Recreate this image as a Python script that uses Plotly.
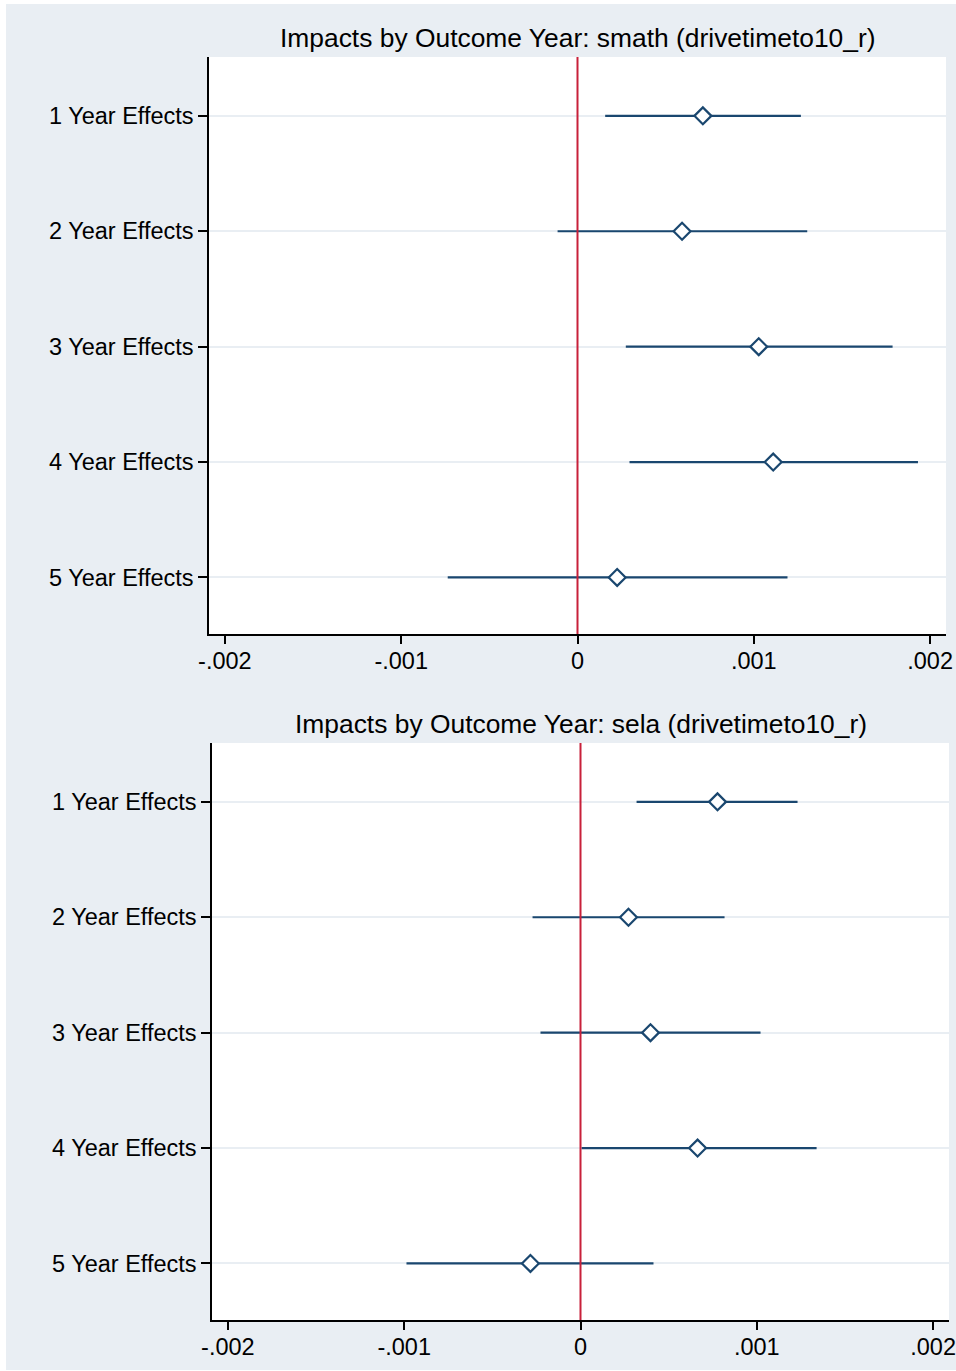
import plotly.graph_objects as go

# ---------------- data ----------------
categories = ["1 Year Effects", "2 Year Effects", "3 Year Effects",
              "4 Year Effects", "5 Year Effects"]
cat_pos = [1, 2, 3, 4, 5]

math_est = [0.000711, 0.000593, 0.001028, 0.001110, 0.000225]
math_lo = [0.000157, -0.000113, 0.000274, 0.000295, -0.000736]
math_hi = [0.001267, 0.001303, 0.001787, 0.001931, 0.001191]

ela_est = [0.000777, 0.000272, 0.000397, 0.000664, -0.000284]
ela_lo = [0.000318, -0.000272, -0.000227, 0.000006, -0.000987]
ela_hi = [0.001231, 0.000817, 0.001021, 0.001339, 0.000414]

xtick_vals = [-0.002, -0.001, 0, 0.001, 0.002]
xtick_text = ["-.002", "-.001", "0", ".001", ".002"]

titles = ["Impacts by Outcome Year: smath (drivetimeto10_r)",
          "Impacts by Outcome Year: sela (drivetimeto10_r)"]

# ---------------- style ----------------
W, H = 956, 1371
FONT = "Liberation Sans, Arial, Helvetica, sans-serif"
NAVY = "#1A476F"
RED = "#C8203A"
BG = "#E9EEF3"
GRID = "#E9EEF3"

panels = [
    dict(est=math_est, lo=math_lo, hi=math_hi, x=(209, 946), y=(57, 634), ty=38),
    dict(est=ela_est, lo=ela_lo, hi=ela_hi, x=(212, 949), y=(743, 1320), ty=724),
]

fig = go.Figure()
shapes = [dict(type="rect", xref="paper", yref="paper",
               x0=6 / W, x1=1.0, y0=1 - 1370 / H, y1=1 - 4 / H,
               fillcolor=BG, line=dict(width=0), layer="below")]
annotations = []

for i, p in enumerate(panels):
    n = "" if i == 0 else str(i + 1)
    xa, ya = "x" + n, "y" + n
    plus = [h - e for h, e in zip(p["hi"], p["est"])]
    minus = [e - l for e, l in zip(p["est"], p["lo"])]
    fig.add_trace(go.Scatter(
        x=p["est"], y=cat_pos, mode="markers", xaxis=xa, yaxis=ya,
        marker=dict(symbol="diamond", size=13, color="white",
                    line=dict(color=NAVY, width=2.2)),
        error_x=dict(type="data", symmetric=False, array=plus, arrayminus=minus,
                     color=NAVY, thickness=2.2, width=0),
        showlegend=False, hoverinfo="skip"))

    xd = [p["x"][0] / W, p["x"][1] / W]
    yd = [1 - p["y"][1] / H, 1 - p["y"][0] / H]
    # white plot region
    shapes.append(dict(type="rect", xref="paper", yref="paper",
                       x0=xd[0], x1=xd[1], y0=yd[0], y1=yd[1],
                       fillcolor="white", line=dict(width=0), layer="below"))
    # zero reference line
    shapes.append(dict(type="line", xref=xa, yref=ya + " domain",
                       x0=0, x1=0, y0=0, y1=1,
                       line=dict(color=RED, width=2), layer="above"))
    annotations.append(dict(text=titles[i], xref="paper", yref="paper",
                            x=(xd[0] + xd[1]) / 2, y=1 - p["ty"] / H,
                            xanchor="center", yanchor="middle", showarrow=False,
                            font=dict(family=FONT, size=26.4, color="black")))

    xkey = "xaxis" + n
    ykey = "yaxis" + n
    fig.update_layout(**{
        xkey: dict(domain=xd, anchor=ya, range=[-0.00209, 0.00209],
                   tickmode="array", tickvals=xtick_vals, ticktext=xtick_text,
                   ticks="outside", ticklen=8, tickwidth=1.5, tickcolor="black",
                   ticklabelstandoff=-3, ticklabeloverflow="allow",
                   showline=True, linecolor="black", linewidth=1.5,
                   showgrid=False, zeroline=False, automargin=False,
                   tickfont=dict(family=FONT, size=23.5, color="black")),
        ykey: dict(domain=yd, anchor=xa, range=[5.49, 0.49],
                   tickmode="array", tickvals=cat_pos, ticktext=categories,
                   ticks="outside", ticklen=9, tickwidth=1.5, tickcolor="black",
                   ticklabeloverflow="allow",
                   showline=True, linecolor="black", linewidth=1.5,
                   showgrid=True, gridcolor=GRID, gridwidth=2,
                   zeroline=False, automargin=False,
                   tickfont=dict(family=FONT, size=23.5, color="black")),
    })

fig.update_layout(
    width=W, height=H, template="none",
    margin=dict(l=0, r=0, t=0, b=0),
    paper_bgcolor="white", plot_bgcolor="rgba(0,0,0,0)",
    shapes=shapes, annotations=annotations,
    font=dict(family=FONT, color="black"),
)

fig.write_html("out.html",
               config={"displayModeBar": False},
               post_script="document.body.style.margin='0';"
                           "document.body.style.overflow='hidden';")
